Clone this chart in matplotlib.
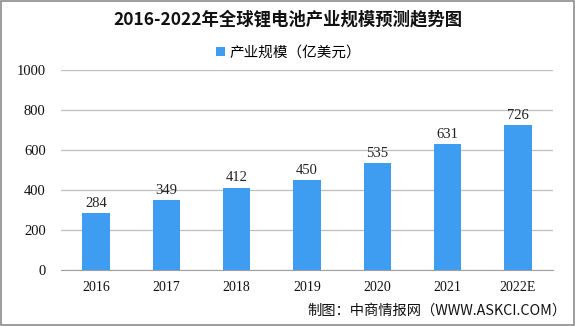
import matplotlib
matplotlib.use("Agg")
import matplotlib.pyplot as plt
from matplotlib.patches import Rectangle

plt.rcParams['font.family'] = ['Noto Sans CJK SC', 'DejaVu Sans']

categories = ["2016", "2017", "2018", "2019", "2020", "2021", "2022E"]
values = [284, 349, 412, 450, 535, 631, 726]
yticks = [0, 200, 400, 600, 800, 1000]
title = "2016-2022年全球锂电池产业规模预测趋势图"
series_name = "产业规模（亿美元）"
source = "制图：中商情报网（WWW.ASKCI.COM）"

bar_color = "#3E9DF0"
serif = ['Liberation Serif', 'DejaVu Serif']

fig = plt.figure(figsize=(5.75, 3.26), dpi=100)
ax = fig.add_axes([61/575, 1-270/326, 492/575, 200/326])

x = list(range(len(categories)))
bars = ax.bar(x, values, width=0.39, color=bar_color, zorder=3, label=series_name)
for xi, v in zip(x, values):
    ax.text(xi, v + 16, str(v), ha='center', va='bottom', fontsize=10.5,
            family=serif, color='#222222')

ax.set_xlim(-0.5, len(categories) - 0.5)
ax.set_ylim(0, 1000)
ax.set_yticks(yticks)
ax.set_yticklabels([str(t) for t in yticks], fontsize=10.5, family=serif)
ax.set_xticks(x)
ax.set_xticklabels(categories, fontsize=10, family=serif)
ax.grid(axis='y', color='#BFBFBF', linewidth=0.9, zorder=0)
for s in ['top', 'right', 'left']:
    ax.spines[s].set_visible(False)
ax.spines['bottom'].set_color('#A0A0A0')
ax.tick_params(axis='y', length=0, pad=11, colors='#111111')
ax.tick_params(axis='x', length=0, pad=8, colors='#111111')

fig.text(0.5, 1 - 19/326, title, ha='center', va='center', fontsize=12.5,
         fontweight='bold', color='#111111')

leg = fig.legend(handles=[bars], labels=[series_name], loc='center',
                 bbox_to_anchor=(0.502, 1 - 53/326), frameon=False,
                 fontsize=10.5, handlelength=0.6, handleheight=0.6,
                 handletextpad=0.3)

fig.text(567/575, 1 - 311/326, source, ha='right', va='center', fontsize=10.3,
         color='#111111')

fig.add_artist(Rectangle((0.001, 0.002), 0.997, 0.995, transform=fig.transFigure,
                         fill=False, edgecolor='#8C8C8C', linewidth=1.2))

fig.savefig("out.png", dpi=100)
